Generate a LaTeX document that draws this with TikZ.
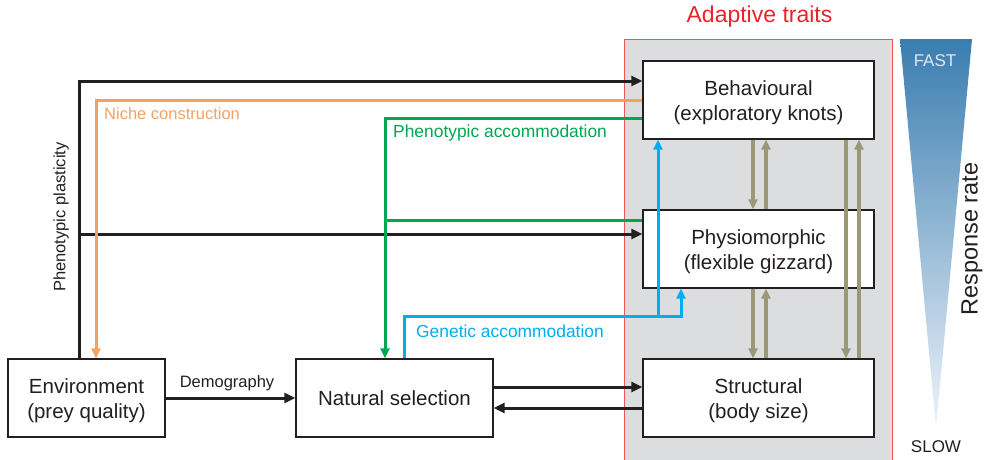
\documentclass[tikz,border=0pt]{standalone}
\usepackage{fontspec}
\setmainfont{Liberation Sans}
\usetikzlibrary{arrows.meta,calc}
\definecolor{dk}{HTML}{231F20}
\definecolor{orng}{HTML}{F3A262}
\definecolor{grn}{HTML}{00A651}
\definecolor{blu}{HTML}{00AEEF}
\definecolor{olv}{HTML}{9B9877}
\definecolor{ttlred}{HTML}{E8242A}
\definecolor{brdred}{HTML}{EE5555}
\definecolor{gry}{HTML}{DCDDDF}
\definecolor{gtop}{HTML}{3A7DB0}
\definecolor{gbot}{HTML}{EEF4FA}
\definecolor{fastc}{HTML}{DCE8F4}
\tikzset{
  box/.style={draw=dk, line width=1.4pt, fill=white, text=dk, align=center,
    font=\fontsize{20.5}{25}\selectfont, inner sep=0pt},
  boxtxt/.style={text=dk, align=center, font=\fontsize{20.5}{25}\selectfont, inner sep=0pt},
  lbl/.style={font=\fontsize{16.5}{20}\selectfont, inner sep=0pt},
  lblb/.style={font=\fontsize{17.4}{20}\selectfont, inner sep=0pt},
  blk/.style={draw=dk, line width=3pt, -{Triangle[length=11pt,width=10pt]}},
  orl/.style={draw=orng, line width=3pt},
  grl/.style={draw=grn, line width=3pt},
  bll/.style={draw=blu, line width=3pt},
  tip/.style={-{Triangle[length=10pt,width=9pt]}},
  olvarr/.style={draw=olv, line width=3.2pt, -{Triangle[length=10pt,width=9pt]}}
}
\begin{document}
\begin{tikzpicture}[x=1pt,y=-1pt]
\useasboundingbox (0,0) rectangle (986,459);
% grey region
\fill[gry] (624,39) rectangle (892,462);
\draw[brdred, line width=1pt] (624,462) -- (624,39) -- (892,39) -- (892,462);
\node[text=ttlred, font=\fontsize{23}{26}\selectfont, inner sep=0pt] (title) at (759.5,17) {Adaptive traits};
% gradient triangle
\shade[top color=gtop, bottom color=gbot] (900,39) -- (972,39) -- (936,428) -- cycle;
\node[text=fastc, font=\fontsize{17}{20}\selectfont, inner sep=0pt] (fast) at (935,61) {FAST};
\node[text=dk, font=\fontsize{17}{20}\selectfont, inner sep=0pt] (slow) at (936,447) {SLOW};
\node[text=dk, font=\fontsize{23.5}{26}\selectfont, inner sep=0pt, rotate=90] (rr) at (972,239) {Response rate};
% boxes
\node[box, minimum width=157pt, minimum height=78pt] (env) at (86.5,398) {};
\node[boxtxt] (envT) at ([yshift=-2.5pt]env.center) {Environment\\(prey quality)};
\node[box, minimum width=197pt, minimum height=78pt] (ns) at (394.5,398) {Natural selection};
\node[box, minimum width=231pt, minimum height=78pt] (beh) at (758.5,100) {};
\node[boxtxt] (behT) at ([yshift=-2.5pt]beh.center) {Behavioural\\(exploratory knots)};
\node[box, minimum width=231pt, minimum height=78pt] (phy) at (758.5,249) {};
\node[boxtxt] (phyT) at ([yshift=-2.5pt]phy.center) {Physiomorphic\\(flexible gizzard)};
\node[box, minimum width=231pt, minimum height=78pt] (str) at (758.5,398) {};
\node[boxtxt] (strT) at ([yshift=-2.5pt]str.center) {Structural\\(body size)};
% phenotypic plasticity (black)
\coordinate (pp1) at (79,81);
\coordinate (pp2) at (79,234);
\draw[blk] (79,0 |- env.north) -- (pp1) -- (pp1 -| beh.west);
\draw[blk] (pp2) -- (pp2 -| phy.west);
\node[lbl, text=dk, rotate=90] (pplbl) at (61,217) {Phenotypic plasticity};
% niche construction (orange)
\coordinate (nc1) at (96,100);
\draw[orl, tip] (nc1 -| beh.west) -- (nc1) -- (96,0 |- env.north);
\node[lbl, text=orng, anchor=west] (nclbl) at (104,114) {Niche construction};
% phenotypic accommodation (green)
\coordinate (pa1) at (385,118);
\coordinate (pa2) at (385,220);
\draw[grl, tip] (pa1 -| beh.west) -- (pa1) -- (385,0 |- ns.north);
\draw[grl] (pa2 -| phy.west) -- (pa2);
\node[lblb, text=grn, anchor=west] (palbl) at (393,133) {Phenotypic accommodation};
% genetic accommodation (blue)
\coordinate (ga1) at (404,316);
\coordinate (ga2) at (658,316);
\coordinate (ga3) at (681,316);
\draw[bll, tip] (404,0 |- ns.north) -- (ga1) -- (ga2) -- (ga2 |- beh.south);
\draw[bll, tip] (ga2) -- (ga3) -- (ga3 |- phy.south);
\node[lblb, text=blu, anchor=west] (galbl) at (416,331) {Genetic accommodation};
% demography
\draw[blk] (env.east) -- (ns.west);
\node[lbl, text=dk] (demlbl) at (227,383) {Demography};
% NS <-> structural
\draw[blk] (ns.east |- 0,387) -- (str.west |- 0,387);
\draw[blk] (str.west |- 0,408) -- (ns.east |- 0,408);
% olive arrows
\draw[olvarr] (753,0 |- beh.south) -- (753,0 |- phy.north);
\draw[olvarr] (766,0 |- phy.north) -- (766,0 |- beh.south);
\draw[olvarr] (753,0 |- phy.south) -- (753,0 |- str.north);
\draw[olvarr] (766,0 |- str.north) -- (766,0 |- phy.south);
\draw[olvarr] (846,0 |- beh.south) -- (846,0 |- str.north);
\draw[olvarr] (859,0 |- str.north) -- (859,0 |- beh.south);
\end{tikzpicture}
\end{document}
